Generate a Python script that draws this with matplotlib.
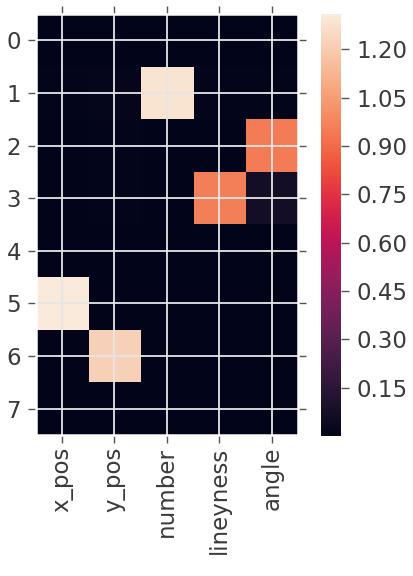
import numpy as np
import matplotlib
matplotlib.use("Agg")
import matplotlib.pyplot as plt
import seaborn as sns

# rows 0..7, columns as labelled
columns = ["x_pos", "y_pos", "number", "lineyness", "angle"]
rows = [0, 1, 2, 3, 4, 5, 6, 7]
x_pos     = [0.00, 0.01, 0.00, 0.00, 0.00, 1.31, 0.00, 0.00]
y_pos     = [0.00, 0.02, 0.01, 0.01, 0.00, 0.00, 1.22, 0.00]
number    = [0.00, 1.28, 0.00, 0.00, 0.00, 0.00, 0.00, 0.00]
lineyness = [0.00, 0.01, 0.00, 0.96, 0.00, 0.00, 0.00, 0.00]
angle     = [0.00, 0.01, 0.95, 0.07, 0.00, 0.00, 0.00, 0.00]
cbar_ticks = [0.15, 0.30, 0.45, 0.60, 0.75, 0.90, 1.05, 1.20]

data = np.array([x_pos, y_pos, number, lineyness, angle]).T

txt = "#3a3a3a"
plt.rcParams.update({
    "font.size": 16.5,
    "xtick.color": "#555555", "ytick.color": "#555555",
    "xtick.labelcolor": txt, "ytick.labelcolor": txt,
})

fig = plt.figure(figsize=(4.14, 5.76), dpi=100)
ax = fig.add_axes([0.0858, 0.2448, 0.6340, 0.7309])
cax = fig.add_axes([0.7746, 0.2430, 0.0483, 0.7327])

cmap = sns.color_palette("rocket", as_cmap=True)
im = ax.imshow(data, cmap=cmap, aspect="auto", interpolation="nearest")

ax.set_xticks(range(len(columns)))
ax.set_xticklabels(columns, rotation=90)
ax.set_yticks(range(len(rows)))
ax.set_yticklabels([str(r) for r in rows])
ax.tick_params(direction="out", length=5.5, width=1.0, pad=3,
               top=True, right=True, labeltop=False, labelright=False)
ax.tick_params(axis="y", pad=5)
ax.grid(True, color="#e6e6e6", linewidth=1.3)
for s in ax.spines.values():
    s.set_color("white")
    s.set_linewidth(1.8)

cb = fig.colorbar(im, cax=cax, ticks=cbar_ticks)
cb.outline.set_visible(False)
cb.ax.set_yticklabels(["%.2f" % t for t in cbar_ticks])
cb.ax.tick_params(direction="out", length=5.5, width=1.0, pad=6)

fig.savefig("out.png", dpi=100)
